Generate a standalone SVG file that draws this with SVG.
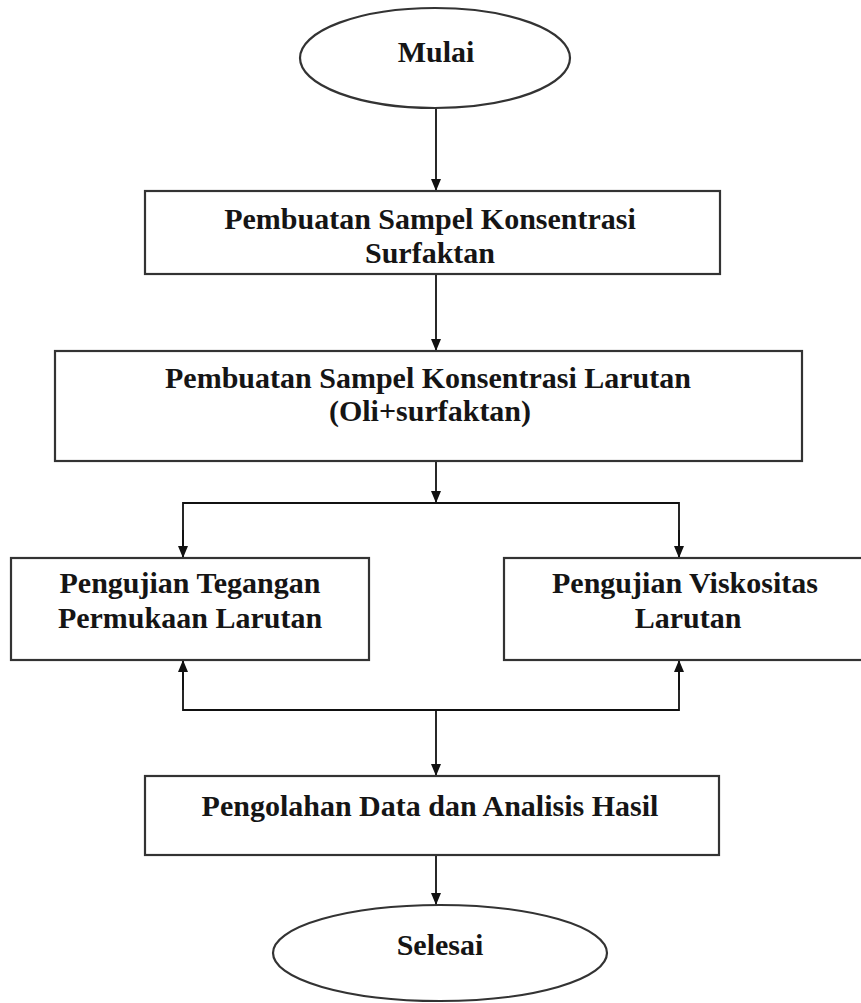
<svg xmlns="http://www.w3.org/2000/svg" width="861" height="1003" viewBox="0 0 861 1003">
<defs>
<style>
.shape{fill:#ffffff;stroke:#333333;stroke-width:2.2}
.lbl{font-family:"Liberation Serif","Times New Roman",serif;font-weight:bold;font-size:30px;fill:#151515;text-anchor:middle}
.con{fill:none;stroke:#111111;stroke-width:1.8}
</style>
<marker id="arr" viewBox="0 0 12 12" refX="12" refY="6" markerWidth="12" markerHeight="12" markerUnits="userSpaceOnUse" orient="auto">
<path d="M0,1 L12,6 L0,11 Z" fill="#111111"/>
</marker>
</defs>
<rect width="861" height="1003" fill="#ffffff"/>
<g id="connectors">
<line class="con" x1="436" y1="108" x2="436" y2="191" marker-end="url(#arr)"/>
<line class="con" x1="436" y1="274" x2="436" y2="351" marker-end="url(#arr)"/>
<line class="con" x1="436" y1="461" x2="436" y2="503" marker-end="url(#arr)"/>
<polyline class="con" points="183,557 183,503 679,503 679,557"/>
<line class="con" x1="183" y1="530" x2="183" y2="558" marker-end="url(#arr)"/>
<line class="con" x1="679" y1="530" x2="679" y2="558" marker-end="url(#arr)"/>
<polyline class="con" points="183,661 183,710 679,710 679,661"/>
<line class="con" x1="183" y1="690" x2="183" y2="660" marker-end="url(#arr)"/>
<line class="con" x1="679" y1="690" x2="679" y2="660" marker-end="url(#arr)"/>
<line class="con" x1="436" y1="710" x2="436" y2="776" marker-end="url(#arr)"/>
<line class="con" x1="436" y1="855" x2="436" y2="905" marker-end="url(#arr)"/>
</g>
<g id="start">
<ellipse class="shape" cx="435" cy="58" rx="135" ry="50"/>
<text class="lbl" x="436" y="62">Mulai</text>
</g>
<g id="sampel-surfaktan">
<rect class="shape" x="145" y="191" width="575" height="83"/>
<text class="lbl" x="430" y="229">Pembuatan Sampel Konsentrasi</text>
<text class="lbl" x="430" y="263">Surfaktan</text>
</g>
<g id="sampel-larutan">
<rect class="shape" x="55" y="351" width="747" height="110"/>
<text class="lbl" x="428" y="388">Pembuatan Sampel Konsentrasi Larutan</text>
<text class="lbl" x="430" y="421">(Oli+surfaktan)</text>
</g>
<g id="uji-tegangan">
<rect class="shape" x="11" y="558" width="358" height="102"/>
<text class="lbl" x="190" y="593">Pengujian Tegangan</text>
<text class="lbl" x="190" y="628">Permukaan Larutan</text>
</g>
<g id="uji-viskositas">
<rect class="shape" x="504" y="558" width="362" height="102"/>
<text class="lbl" x="685" y="593">Pengujian Viskositas</text>
<text class="lbl" x="688" y="628">Larutan</text>
</g>
<g id="pengolahan">
<rect class="shape" x="145" y="776" width="574" height="79"/>
<text class="lbl" x="430" y="816">Pengolahan Data dan Analisis Hasil</text>
</g>
<g id="end">
<ellipse class="shape" cx="440" cy="953" rx="167" ry="48"/>
<text class="lbl" x="440" y="955">Selesai</text>
</g>
</svg>
